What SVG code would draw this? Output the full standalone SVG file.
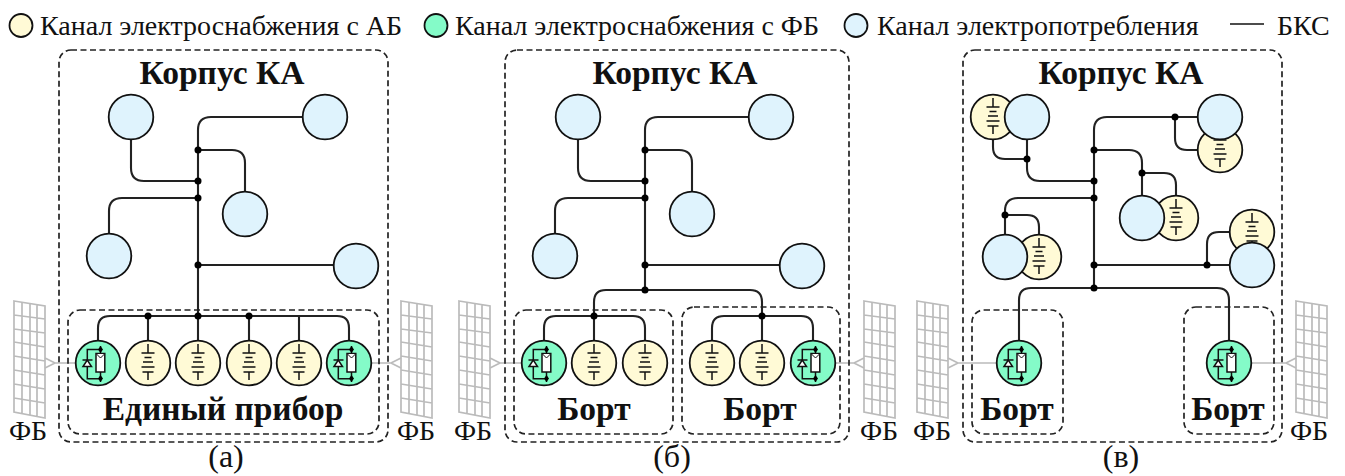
<svg xmlns="http://www.w3.org/2000/svg" xmlns:xlink="http://www.w3.org/1999/xlink" width="1345" height="476" viewBox="0 0 1345 476">
<style>
text{font-family:"Liberation Serif",serif;fill:#111}
.leg{font-size:28px}
.fb{font-size:28px;text-anchor:middle}
.t{font-size:33.5px;font-weight:bold;text-anchor:middle}
.cap{font-size:32px;text-anchor:middle}
.outer{fill:none;stroke:#222;stroke-width:1.7;stroke-dasharray:6 3.500}
.w{fill:none;stroke:#222;stroke-width:2.100}
.bl{fill:#dff3fd;stroke:#111;stroke-width:1.800}
.ab{fill:#fffad6;stroke:#111;stroke-width:1.800}
.fc{fill:#84fbc8;stroke:#111;stroke-width:1.800}
.g{fill:none;stroke:#bbb;stroke-width:1.700}
.s{fill:none;stroke:#111;stroke-width:1.500}
</style>
<defs>
<circle id="d" r="3.500" fill="#000"/>
<circle id="blue" r="22.300" class="bl"/>
<g id="abat"><circle r="22.300" class="ab"/>
<path class="s" d="M0-19V-10M-6.500-10H6.500M-3.500-5.500H3.500M-5-1H5M-6.500 4H6.500M-5.500 9H5.500M0 9V17"/></g>
<g id="solar"><circle r="22.300" class="fc"/>
<path class="s" d="M2.500-13.500H-10.700V15.700H2.500M-10.700-13V15"/>
<path class="s" d="M2.500-17V-9M2.500 9V19"/>
<rect x="-2" y="-9.500" width="8.800" height="18.500" fill="#fff" stroke="#111" stroke-width="1.500"/>
<path d="M-1.500-9L2.500-5L6.500-9" fill="#fff" stroke="#111" stroke-width="1"/>
<path d="M-10.700-3L-15 3.500H-6.500Z" fill="#fff" stroke="#111" stroke-width="1.500"/>
<path class="s" d="M-15.500-3H-5.500"/>
<path d="M0-13.500l2.500-3.500 2.500 3.500-2.500 3.500zM0 15.500l2.500-3.500 2.500 3.500-2.500 3.500z" fill="#000"/></g>
<g id="panel"><path class="g" d="M0 0L31 5V117L0 111ZM8 1.500V113M16 2.500V114M23 4V116M0 14L31 18M0 28L31 32M0 41L31 46M0 55L31 60M0 69L31 74M0 83L31 88M0 97L31 102"/></g>
</defs>

<g id="legend">
<circle cx="21" cy="25.500" r="11.500" class="ab"/><text class="leg" x="40" y="35">Канал электроснабжения с АБ</text>
<circle cx="436" cy="25.500" r="11.500" class="fc"/><text class="leg" x="455" y="35">Канал электроснабжения с ФБ</text>
<circle cx="856" cy="25.500" r="11.500" class="bl"/><text class="leg" x="877" y="35">Канал электропотребления</text>
<path d="M1230 24H1264" stroke="#111" stroke-width="1.600"/><text class="leg" x="1277" y="35">БКС</text>
</g>

<g id="connectors">
<path class="w" d="M198 316V130Q198 117 211 117H303M198 150H232Q245 150 245 163V192M198 181H144Q131 181 131 168V139M198 198H122Q109 198 109 211V234M198 265H334"/>
<path class="w" d="M98 341V328Q98 316 110 316H337Q349 316 349 328V341M148 316V341M198 316V341M249 316V341M299 316V341"/>
<path class="w" d="M645 290V130Q645 117 658 117H749M645 150H679Q692 150 692 163V192M645 181H591Q578 181 578 168V139M645 198H568Q555 198 555 211V234M645 265H780"/>
<path class="w" d="M594 341V302Q594 290 606 290H750Q762 290 762 302V341"/>
<path class="w" d="M544 341V328Q544 316 556 316H633Q645 316 645 328V341"/>
<path class="w" d="M712 341V328Q712 316 724 316H801Q813 316 813 328V341"/>
<path class="w" d="M1094 288V130Q1094 117 1107 117H1198M1175 117V138Q1175 150 1187 150H1198M1094 150H1129Q1142 150 1142 163V196M1142 173H1164Q1176 173 1176 185V196M1094 181H1040Q1027 181 1027 168V139M1027 159H1005Q993 159 993 147V139M1094 198H1018Q1005 198 1005 211V235M1005 215H1027Q1039 215 1039 227V235M1094 265H1230M1207 265V244Q1207 232 1219 232H1230"/>
<path class="w" d="M1019 341V300Q1019 288 1031 288H1217Q1229 288 1229 300V341"/>
<path class="g" d="M45 358L55 363L45 368M55 363H76M1296 358L1286 363L1296 368M1286 363H1251"/>
<path class="g" d="M371 363H391M401 358L391 363L401 368M490 358L500 363L490 368M500 363H522M835 363H854M864 358L854 363L864 368"/>
<path class="g" d="M948 358L958 363L948 368M958 363H997"/>
<g id="junctions">
<use xlink:href="#d" x="198" y="150"/><use xlink:href="#d" x="198" y="181"/><use xlink:href="#d" x="198" y="198"/><use xlink:href="#d" x="198" y="265"/><use xlink:href="#d" x="198" y="316"/><use xlink:href="#d" x="148" y="316"/><use xlink:href="#d" x="249" y="316"/>
<use xlink:href="#d" x="645" y="150"/><use xlink:href="#d" x="645" y="181"/><use xlink:href="#d" x="645" y="198"/><use xlink:href="#d" x="645" y="265"/><use xlink:href="#d" x="645" y="290"/><use xlink:href="#d" x="594" y="316"/><use xlink:href="#d" x="762" y="316"/>
<use xlink:href="#d" x="1094" y="150"/><use xlink:href="#d" x="1094" y="181"/><use xlink:href="#d" x="1094" y="198"/><use xlink:href="#d" x="1094" y="265"/><use xlink:href="#d" x="1094" y="288"/><use xlink:href="#d" x="1027" y="159"/><use xlink:href="#d" x="1175" y="117"/><use xlink:href="#d" x="1142" y="173"/><use xlink:href="#d" x="1005" y="215"/><use xlink:href="#d" x="1207" y="265"/>
</g>
</g>

<g id="panel-a">
<rect class="outer" x="59" y="50" width="329" height="392" rx="12"/>
<rect class="outer" x="68" y="310" width="311" height="124" rx="12"/>
<text class="t" x="222" y="84">Корпус КА</text><text class="t" x="223" y="420">Единый прибор</text>
<use xlink:href="#blue" x="131" y="117"/><use xlink:href="#blue" x="325" y="117"/><use xlink:href="#blue" x="245" y="214"/><use xlink:href="#blue" x="109" y="256"/><use xlink:href="#blue" x="356" y="266"/>
<use xlink:href="#solar" x="98" y="363"/><use xlink:href="#abat" x="148" y="363"/><use xlink:href="#abat" x="198" y="363"/><use xlink:href="#abat" x="249" y="363"/><use xlink:href="#abat" x="299" y="363"/><use xlink:href="#solar" x="349" y="363"/>
<use xlink:href="#panel" x="14" y="301"/><use xlink:href="#panel" x="401" y="301"/>
<text class="fb" x="28" y="440">ФБ</text><text class="fb" x="416" y="440">ФБ</text>
<text class="cap" x="226" y="467">(а)</text>
</g>

<g id="panel-b">
<rect class="outer" x="505" y="50" width="344" height="392" rx="12"/>
<rect class="outer" x="514" y="310" width="159" height="124" rx="12"/>
<rect class="outer" x="682" y="307" width="158" height="127" rx="12"/>
<text class="t" x="675" y="84">Корпус КА</text><text class="t" x="594" y="420">Борт</text><text class="t" x="760" y="420">Борт</text>
<use xlink:href="#blue" x="578" y="117"/><use xlink:href="#blue" x="771" y="117"/><use xlink:href="#blue" x="692" y="214"/><use xlink:href="#blue" x="555" y="256"/><use xlink:href="#blue" x="802" y="266"/>
<use xlink:href="#solar" x="544" y="363"/><use xlink:href="#abat" x="594" y="363"/><use xlink:href="#abat" x="645" y="363"/><use xlink:href="#abat" x="712" y="363"/><use xlink:href="#abat" x="762" y="363"/><use xlink:href="#solar" x="813" y="363"/>
<use xlink:href="#panel" x="459" y="301"/><use xlink:href="#panel" x="864" y="301"/>
<text class="fb" x="473" y="440">ФБ</text><text class="fb" x="879" y="440">ФБ</text>
<text class="cap" x="672" y="467">(б)</text>
</g>

<g id="panel-c">
<rect class="outer" x="963" y="50" width="319" height="392" rx="12"/>
<rect class="outer" x="972" y="310" width="91" height="124" rx="12"/>
<rect class="outer" x="1184" y="307" width="90" height="127" rx="12"/>
<text class="t" x="1121" y="84">Корпус КА</text><text class="t" x="1017" y="420">Борт</text><text class="t" x="1228" y="420">Борт</text>
<use xlink:href="#abat" x="993" y="117"/><use xlink:href="#blue" x="1027" y="117"/>
<use xlink:href="#abat" x="1220" y="150"/><use xlink:href="#blue" x="1220" y="117"/>
<use xlink:href="#abat" x="1176" y="218"/><use xlink:href="#blue" x="1142" y="218"/>
<use xlink:href="#abat" x="1039" y="257"/><use xlink:href="#blue" x="1005" y="257"/>
<use xlink:href="#abat" x="1252" y="232"/><use xlink:href="#blue" x="1252" y="265"/>
<use xlink:href="#solar" x="1019" y="363"/><use xlink:href="#solar" x="1229" y="363"/>
<use xlink:href="#panel" x="917" y="301"/><use xlink:href="#panel" x="1296" y="301"/>
<text class="fb" x="932" y="440">ФБ</text><text class="fb" x="1309" y="440">ФБ</text>
<text class="cap" x="1121" y="467">(в)</text>
</g>
</svg>
